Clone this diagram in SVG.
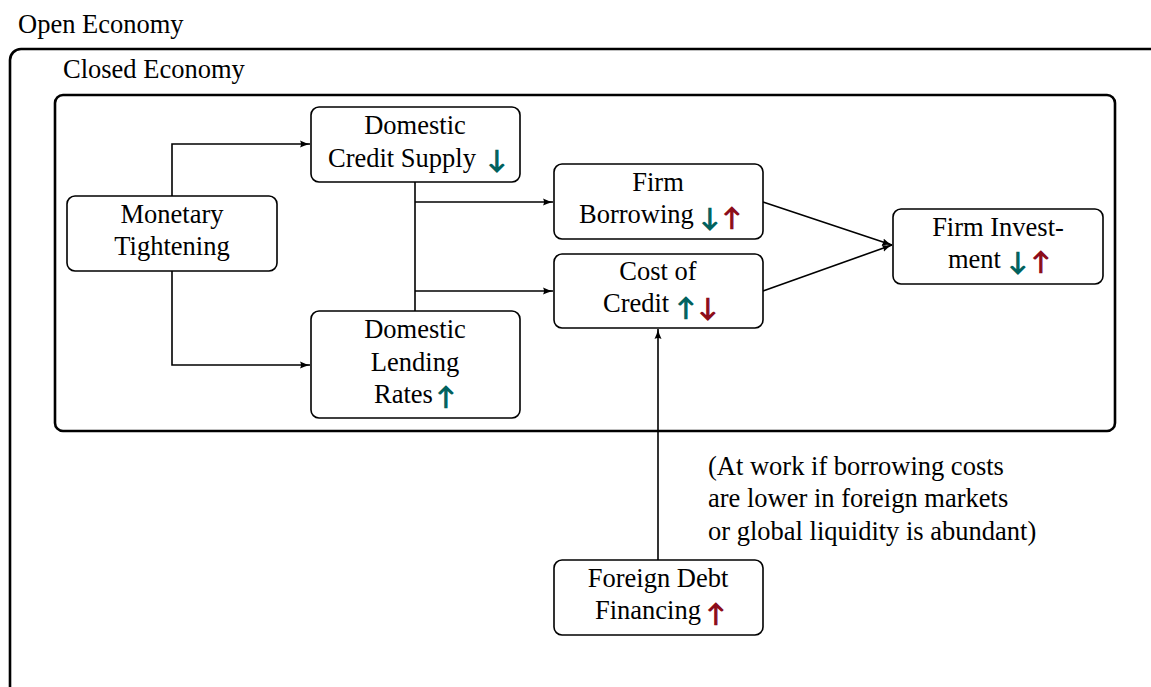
<svg xmlns="http://www.w3.org/2000/svg" width="1151" height="687" viewBox="0 0 1151 687">
<style>
text{font-family:"Liberation Serif","Times New Roman",serif;font-size:26.5px;fill:#000}
.c{text-anchor:middle}
.node{fill:#fff;stroke:#000;stroke-width:1.6}
.conn{fill:none;stroke:#000;stroke-width:1.6}
.ar{font-family:Lato,"DejaVu Sans",sans-serif;font-size:24.5px;text-anchor:middle;stroke-width:1.2;stroke-linejoin:miter}
.t{fill:#00615e;stroke:#00615e}
.r{fill:#8c0c1a;stroke:#8c0c1a}
</style>
<defs>
<marker id="ah" viewBox="0 0 10 10" refX="10" refY="5" markerWidth="10" markerHeight="10" markerUnits="userSpaceOnUse" orient="auto">
<path d="M0,1.5 Q5,4 10,5 Q5,6 0,8.5 Q2,5 0,1.5Z" fill="#000"/>
</marker>
</defs>
<text x="18" y="33">Open Economy</text>
<rect x="10" y="49" width="1160" height="660" rx="11" fill="none" stroke="#000" stroke-width="2.6"/>
<text x="63" y="78">Closed Economy</text>
<rect x="55" y="95" width="1060" height="336" rx="8" fill="none" stroke="#000" stroke-width="2.6"/>
<g id="connectors">
<path class="conn" d="M172,196 V144 H310" marker-end="url(#ah)"/>
<path class="conn" d="M172,271 V365 H310" marker-end="url(#ah)"/>
<path class="conn" d="M415,182 V311"/>
<path class="conn" d="M415,202 H553" marker-end="url(#ah)"/>
<path class="conn" d="M415,291 H553" marker-end="url(#ah)"/>
<path class="conn" d="M763,202 L892,245" marker-end="url(#ah)"/>
<path class="conn" d="M763,291 L892,245" marker-end="url(#ah)"/>
<path class="conn" d="M658,560 V329" marker-end="url(#ah)"/>
</g>
<g id="monetary">
<rect class="node" x="67" y="196" width="210" height="75" rx="8"/>
<text class="c" x="172" y="223">Monetary</text>
<text class="c" x="172" y="255">Tightening</text>
</g>
<g id="credit-supply">
<rect class="node" x="311" y="107" width="209" height="75" rx="8"/>
<text class="c" x="415" y="134">Domestic</text>
<text x="328" y="167">Credit Supply</text>
<text class="ar t" x="497" y="168">↓</text>
</g>
<g id="lending-rates">
<rect class="node" x="311" y="311" width="209" height="107" rx="8"/>
<text class="c" x="415" y="338">Domestic</text>
<text class="c" x="415" y="371">Lending</text>
<text x="374" y="403">Rates</text>
<text class="ar t" x="446" y="404.5">↑</text>
</g>
<g id="firm-borrowing">
<rect class="node" x="554" y="164" width="209" height="75" rx="8"/>
<text class="c" x="658" y="191">Firm</text>
<text x="579" y="223">Borrowing</text>
<text class="ar t" x="710" y="225.5">↓</text>
<text class="ar r" x="732" y="225.5">↑</text>
</g>
<g id="cost-of-credit">
<rect class="node" x="554" y="254" width="209" height="74" rx="8"/>
<text class="c" x="658" y="280">Cost of</text>
<text x="603" y="312">Credit</text>
<text class="ar t" x="686" y="315.5">↑</text>
<text class="ar r" x="708" y="315.5">↓</text>
</g>
<g id="firm-investment">
<rect class="node" x="893" y="209" width="210" height="75" rx="8"/>
<text class="c" x="998" y="236">Firm Invest-</text>
<text x="948" y="268">ment</text>
<text class="ar t" x="1018" y="269.5">↓</text>
<text class="ar r" x="1041" y="269.5">↑</text>
</g>
<g id="foreign-debt">
<rect class="node" x="554" y="560" width="209" height="75" rx="8"/>
<text class="c" x="658" y="587">Foreign Debt</text>
<text x="595" y="619">Financing</text>
<text class="ar r" x="716" y="621.5">↑</text>
</g>
<g id="note">
<text x="708" y="475">(At work if borrowing costs</text>
<text x="708" y="507">are lower in foreign markets</text>
<text x="708" y="540">or global liquidity is abundant)</text>
</g>
</svg>
